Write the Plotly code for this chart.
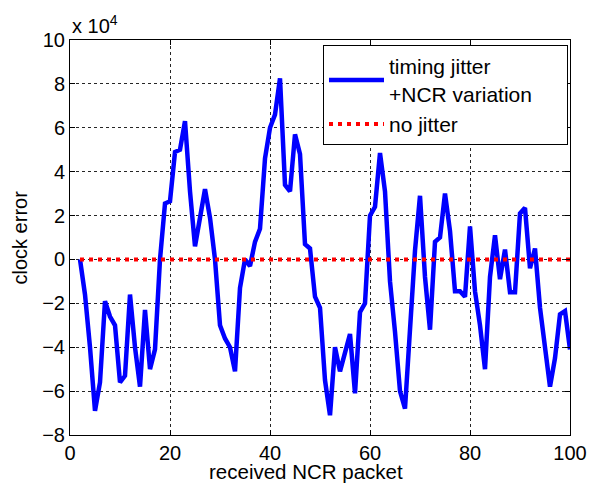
import plotly.graph_objects as go

# received NCR packet index
packets = list(range(2, 101))
# clock error, in units of 1e4
clock_error = [
    0.0, -1.6, -4.0, -6.9, -5.6, -1.9, -2.6, -3.0, -5.6, -5.3,
    -1.6, -4.0, -5.8, -2.3, -5.0, -4.1, 0.0, 2.55, 2.65, 4.9,
    5.0, 6.3, 3.1, 0.6, 1.9, 3.2, 1.9, 0.0, -3.0, -3.6,
    -4.0, -5.1, -1.3, 0.0, -0.3, 0.8, 1.4, 4.6, 6.0, 6.6,
    8.25, 3.4, 3.1, 5.7, 4.8, 0.7, 0.5, -1.7, -2.2, -5.5,
    -7.1, -4.0, -5.1, -4.2, -3.4, -6.1, -2.4, -2.0, 2.0, 2.4,
    4.85, 3.1, -1.0, -3.3, -6.0, -6.8, -3.3, 0.4, 2.9, -0.8,
    -3.2, 0.8, 1.0, 3.0, 1.3, -1.45, -1.45, -1.7, 1.5, -1.45,
    -3.0, -5.0, -0.8, 1.1, -0.9, 0.45, -1.5, -1.5, 2.1, 2.35,
    -0.4, 0.5, -2.2, -4.2, -5.8, -4.5, -2.5, -2.35, -4.1,
]
no_jitter = [0.0] * len(packets)

y_ticks = [-8, -6, -4, -2, 0, 2, 4, 6, 8, 10]
x_ticks = [0, 20, 40, 60, 80, 100]

FONT = "Liberation Sans, Arial, sans-serif"
NB = "\u00a0"

fig = go.Figure()
fig.add_trace(go.Scatter(
    x=packets, y=clock_error, mode="lines",
    name="timing jitter<br>+NCR variation" + NB * 5,
    line=dict(color="#0000ff", width=4.5),
))
fig.add_trace(go.Scatter(
    x=packets, y=no_jitter, mode="lines",
    name="no jitter",
    line=dict(color="#ff0000", width=4, dash="4px,5px"),
))

axis_common = dict(
    showline=True, linecolor="black", linewidth=1, mirror="ticks",
    ticks="inside", ticklen=5, tickcolor="black",
    showgrid=True, gridcolor="rgba(0,0,0,0.85)", gridwidth=1, griddash="3px,3px",
    zeroline=False,
    tickfont=dict(family=FONT, size=20, color="black"),
)

fig.update_layout(
    width=590, height=475,
    margin=dict(l=62, r=28, t=32, b=48),
    paper_bgcolor="white", plot_bgcolor="white",
    font=dict(family=FONT, size=20, color="black"),
    xaxis=dict(range=[0, 100], tickvals=x_ticks, **axis_common),
    yaxis=dict(range=[-8, 10], tickvals=y_ticks, **axis_common),
    legend=dict(x=0.996, xanchor="right", y=0.987, yanchor="top",
                bgcolor="white", bordercolor="black", borderwidth=1,
                font=dict(family=FONT, size=21, color="black"),
                itemwidth=55, tracegroupgap=2),
    annotations=[
        dict(text="x 10<sup>4</sup>", xref="paper", yref="paper",
             x=0, y=1, xanchor="left", yanchor="bottom", yshift=1,
             showarrow=False, font=dict(family=FONT, size=20, color="black")),
        dict(text="received NCR packet", xref="paper", yref="paper",
             x=0.472, y=0, xanchor="center", yanchor="middle", yshift=-36,
             showarrow=False, font=dict(family=FONT, size=20.5, color="black")),
        dict(text="clock error", xref="paper", yref="paper",
             x=0, y=0.5, xanchor="center", yanchor="middle", xshift=-51,
             textangle=-90,
             showarrow=False, font=dict(family=FONT, size=20, color="black")),
    ],
    showlegend=True,
)

fig.write_html("out.html")
